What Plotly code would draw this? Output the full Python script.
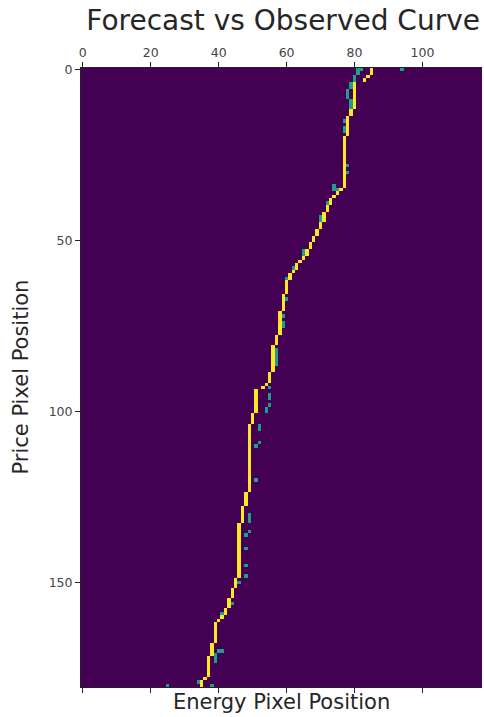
import numpy as np
import plotly.graph_objects as go

# Grid size (rows = price pixels, columns = energy pixels)
n_rows = 181
n_cols = 118

# Forecast curve: each segment starts at a row and keeps its column until the next start
forecast_row_start = [0, 2, 3, 4, 12, 14, 20, 35, 36, 37, 38, 40, 42, 45, 47, 49, 51, 53,
                      55, 56, 57, 59, 60, 62, 66, 71, 78, 81, 89, 92, 93, 94, 101, 104,
                      124, 128, 133, 149, 152, 155, 158, 160, 161, 162, 168, 172, 178, 179]
forecast_col = [85, 84, 83, 80, 79, 78, 77, 76, 75, 74, 73, 72, 71, 70, 69, 68, 67, 66,
                65, 64, 63, 62, 61, 60, 59, 58, 57, 56, 55, 54, 53, 51, 50, 49,
                48, 47, 46, 45, 44, 43, 42, 41, 40, 39, 38, 37, 36, 35]

# Observed curve pixels
obs_rows = [0, 0, 0, 1, 2, 3, 4, 5, 6, 7, 8, 9, 10, 11, 15, 17, 18, 28, 30, 34, 35, 35,
            39, 40, 43, 44, 47, 51, 53, 54, 58, 61, 67, 72, 74, 75, 82, 83, 84, 85, 86,
            93, 95, 96, 98, 99, 100, 104, 105, 109, 110, 120, 130, 131, 132, 135, 136,
            140, 145, 148, 150, 156, 159, 170, 170, 171, 172, 173, 179, 180, 180]
obs_cols = [94, 82, 81, 81, 80, 80, 79, 79, 78, 78, 78, 79, 79, 79, 77, 77, 77, 78, 78, 74, 74, 75,
            72, 72, 70, 70, 69, 67, 65, 65, 62, 60, 60, 59, 59, 59, 57, 57, 57, 57, 57,
            55, 55, 55, 55, 54, 54, 52, 52, 52, 51, 51, 49, 49, 49, 49, 48,
            48, 48, 48, 46, 44, 41, 40, 41, 39, 39, 39, 34, 38, 25]

# Tick positions
x_ticks = [0, 20, 40, 60, 80, 100]
y_ticks = [0, 50, 100, 150]

# Build the image: 0 = background, 1 = observed, 2 = forecast
z = np.zeros((n_rows, n_cols))
for r, c in zip(obs_rows, obs_cols):
    z[r, c] = 1
bounds = forecast_row_start + [n_rows]
for i, c in enumerate(forecast_col):
    z[bounds[i]:bounds[i + 1], c] = 2

fig = go.Figure(
    go.Heatmap(
        z=z,
        x=np.arange(n_cols),
        y=np.arange(n_rows),
        zmin=0,
        zmax=2,
        colorscale=[[0, "#440154"], [0.5, "#1f9e89"], [1, "#fde725"]],
        showscale=False,
        zsmooth=False,
        hoverinfo="skip",
    )
)

font = "DejaVu Sans, Arial, sans-serif"
fig.update_layout(
    width=484,
    height=717,
    margin=dict(l=81, r=2, t=68, b=30),
    paper_bgcolor="white",
    plot_bgcolor="white",
    font=dict(family=font, color="#333333"),
    title=dict(
        text="Forecast vs Observed Curve",
        x=0.585,
        xanchor="center",
        y=0.972,
        yanchor="middle",
        font=dict(size=28, color="#262626", family=font),
    ),
    xaxis=dict(
        side="top",
        range=[-0.5, n_cols - 0.5],
        tickvals=x_ticks,
        ticks="outside",
        ticklen=5,
        tickcolor="#222",
        showline=True,
        linecolor="#222",
        linewidth=1,
        mirror="ticks",
        showgrid=False,
        zeroline=False,
        tickfont=dict(size=12.5, color="#444"),
    ),
    yaxis=dict(
        range=[n_rows - 0.5, -0.5],
        tickvals=y_ticks,
        ticks="outside",
        ticklen=5,
        tickcolor="#222",
        showline=True,
        linecolor="#222",
        linewidth=1,
        showgrid=False,
        zeroline=False,
        tickfont=dict(size=12.5, color="#444"),
    ),
    annotations=[
        dict(
            text="Energy Pixel Position",
            xref="paper", yref="paper",
            x=0.5, y=0,
            xanchor="center", yanchor="top",
            yshift=-1,
            showarrow=False,
            font=dict(size=21, color="#262626", family=font),
        ),
        dict(
            text="Price Pixel Position",
            xref="paper", yref="paper",
            x=0, y=0.5,
            xanchor="right", yanchor="middle",
            xshift=-47,
            textangle=-90,
            showarrow=False,
            font=dict(size=21, color="#262626", family=font),
        ),
    ],
)

fig.write_html("out.html")
